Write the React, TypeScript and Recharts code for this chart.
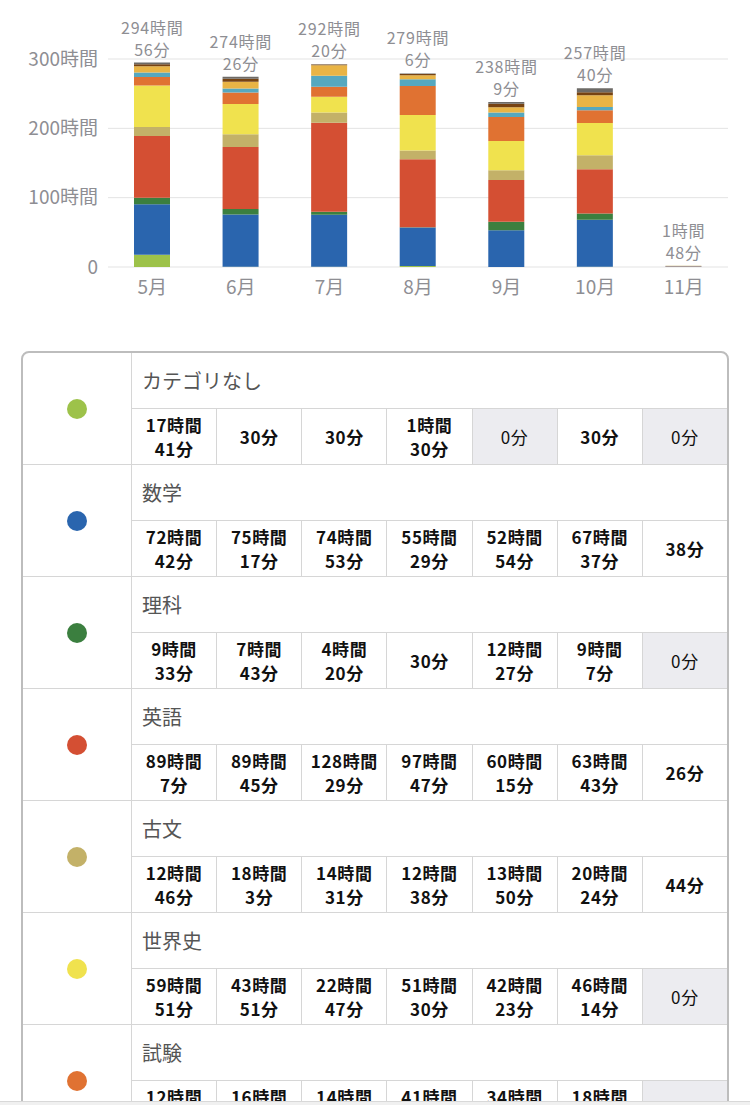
import { Bar, CartesianGrid, ComposedChart, Line, XAxis, YAxis } from "recharts";

const months = ["5月", "6月", "7月", "8月", "9月", "10月", "11月"];

// minutes per month
const noCategory = [1061, 30, 30, 90, 0, 30, 0];
const math = [4362, 4517, 4493, 3329, 3174, 4057, 38];
const science = [573, 463, 260, 30, 747, 547, 0];
const english = [5347, 5385, 7709, 5867, 3615, 3823, 26];
const classics = [766, 1083, 871, 758, 830, 1224, 44];
const worldHistory = [3591, 2631, 1367, 3090, 2543, 2774, 0];
const exam = [750, 990, 870, 2490, 2070, 1110, 0];
// not listed in the visible table, estimated from the bars
const lightBlue = [390, 342, 960, 600, 390, 288, 0];
const amber = [540, 600, 900, 330, 450, 1008, 0];
const brown = [156, 252, 60, 120, 300, 258, 0];
const gray = [156, 174, 18, 42, 168, 348, 0];

const totalMinutes = [17696, 16466, 17540, 16746, 14289, 15460, 108];
const yTicks = [0, 100, 200, 300];

const series = [
  { key: "noCategory", name: "カテゴリなし", color: "#9dc24a", values: noCategory },
  { key: "math", name: "数学", color: "#2a65ae", values: math },
  { key: "science", name: "理科", color: "#3b7f3f", values: science },
  { key: "english", name: "英語", color: "#d44f33", values: english },
  { key: "classics", name: "古文", color: "#c3b168", values: classics },
  { key: "worldHistory", name: "世界史", color: "#f0e24e", values: worldHistory },
  { key: "exam", name: "試験", color: "#e07232", values: exam },
  { key: "lightBlue", name: "その他1", color: "#56a8bf", values: lightBlue },
  { key: "amber", name: "その他2", color: "#e9b445", values: amber },
  { key: "brown", name: "その他3", color: "#774312", values: brown },
  { key: "gray", name: "その他4", color: "#6d6a66", values: gray },
];

const tableRows = series.slice(0, 7);

const data = months.map((month, i) => {
  const row: Record<string, number | string> = {
    month,
    total: totalMinutes[i],
    totalHours: totalMinutes[i] / 60,
  };
  series.forEach((s) => (row[s.key] = s.values[i] / 60));
  return row;
});

const FONT = '"Noto Sans CJK JP", "Noto Sans", sans-serif';
const AXIS_GRAY = "#8e8e93";

// total above each stack, drawn as the (invisible) line's dot
function totalDot(props: any) {
  const { cx, cy, payload, index } = props;
  const value = payload.total as number;
  const h = Math.floor(value / 60);
  const m = value % 60;
  return (
    <g key={`total-${index}`} fill={AXIS_GRAY} fontSize={16} fontFamily={FONT} letterSpacing={0.8}>
      <text x={cx} y={cy - 36} textAnchor="middle" dominantBaseline="central">{`${h}時間`}</text>
      <text x={cx} y={cy - 14} textAnchor="middle" dominantBaseline="central">{`${m}分`}</text>
    </g>
  );
}

function MonthTick(props: any) {
  const { x, y, payload } = props;
  return (
    <text x={x} y={y} dy={19} textAnchor="middle" fill={AXIS_GRAY} fontSize={19} fontFamily={FONT}>
      {payload.value}
    </text>
  );
}

function Cell({ minutes }: { minutes: number }) {
  const h = Math.floor(minutes / 60);
  const m = minutes % 60;
  const zero = minutes === 0;
  return (
    <div
      style={{
        flex: 1,
        borderLeft: "1px solid #d6d6d6",
        background: zero ? "#ececf0" : "#fff",
        display: "flex",
        flexDirection: "column",
        alignItems: "center",
        justifyContent: "center",
        fontWeight: zero ? 400 : 700,
        fontSize: 17,
        lineHeight: "24px",
        letterSpacing: 0.6,
        color: "#111",
      }}
    >
      {h > 0 && <span>{`${h}時間`}</span>}
      <span>{`${m}分`}</span>
    </div>
  );
}

export default function App() {
  return (
    <div style={{ position: "absolute", left: 0, top: 0, width: 750, height: 1105, overflow: "hidden", background: "#fff", fontFamily: FONT }}>
      <ComposedChart width={750} height={310} data={data} margin={{ top: 59, right: 22, bottom: 13, left: 0 }}>
        <CartesianGrid vertical={false} stroke="#e3e3e3" />
        <XAxis dataKey="month" tickLine={false} axisLine={false} tick={<MonthTick />} height={30} interval={0} />
        <YAxis
          domain={[0, 300]}
          ticks={yTicks}
          width={108}
          tickLine={false}
          axisLine={false}
          tickMargin={4}
          tick={{ fill: AXIS_GRAY, fontSize: 19, fontFamily: FONT }}
          tickFormatter={(v: number) => (v === 0 ? "0" : `${v}時間`)}
        />
        {series.map((s) => (
          <Bar key={s.key} dataKey={s.key} stackId="a" fill={s.color} barSize={36} isAnimationActive={false} />
        ))}
        <Line dataKey="totalHours" stroke="none" dot={totalDot} activeDot={false} isAnimationActive={false} />
      </ComposedChart>

      <div
        style={{
          position: "absolute",
          left: 21,
          top: 351,
          width: 704,
          border: "2px solid #bdbdbd",
          borderRadius: 8,
        }}
      >
        {tableRows.map((r, idx) => (
          <div key={r.key} style={{ display: "flex", height: 111, borderTop: idx === 0 ? "none" : "1px solid #d6d6d6" }}>
            <div style={{ width: 108, display: "flex", alignItems: "center", justifyContent: "center", borderRight: "1px solid #d6d6d6" }}>
              <div style={{ width: 20, height: 20, borderRadius: 10, background: r.color }} />
            </div>
            <div style={{ flex: 1, display: "flex", flexDirection: "column" }}>
              <div style={{ height: 55, borderBottom: "1px solid #d6d6d6", display: "flex", alignItems: "center", paddingLeft: 10, fontSize: 20, color: "#555" }}>
                {r.name}
              </div>
              <div style={{ flex: 1, display: "flex", marginLeft: -1 }}>
                {r.values.map((v, i) => (
                  <Cell key={i} minutes={v} />
                ))}
              </div>
            </div>
          </div>
        ))}
      </div>

      <div style={{ position: "absolute", left: 0, top: 1101, width: 750, height: 4, background: "#f0f0f0", borderTop: "1px solid #d8d8d8" }} />
    </div>
  );
}
